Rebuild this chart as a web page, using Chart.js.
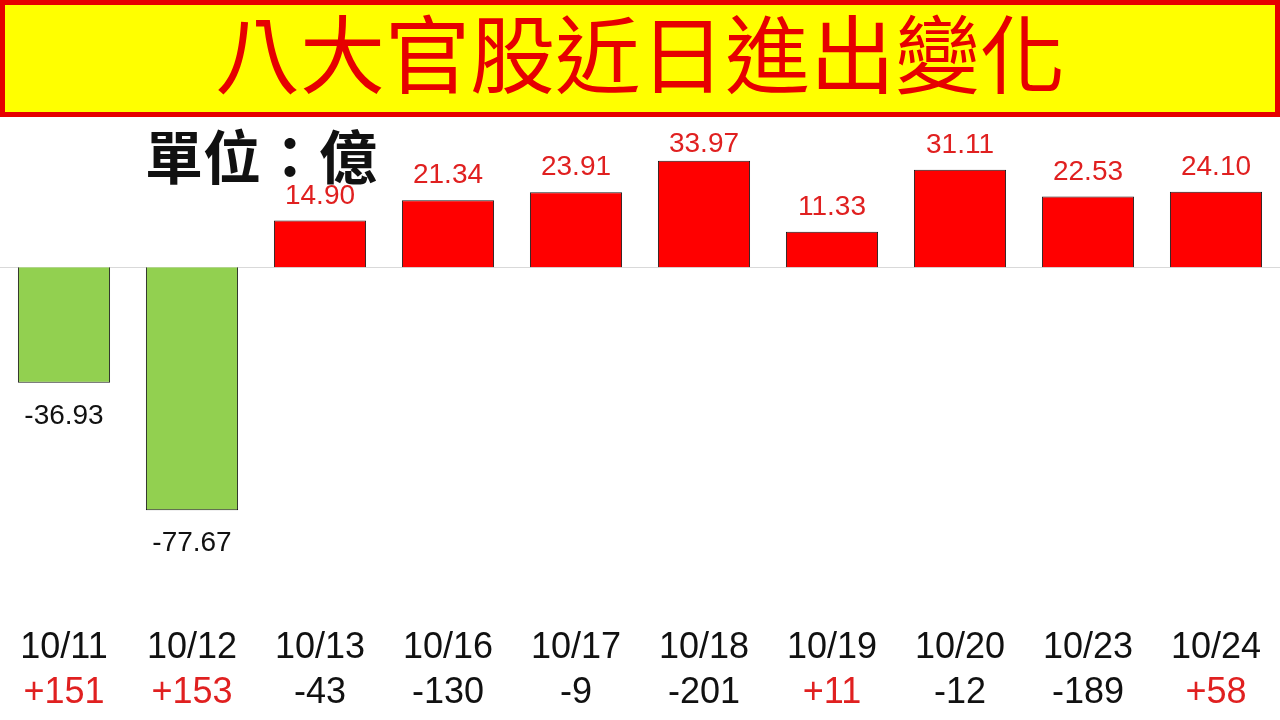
<!DOCTYPE html>
<html>
<head>
<meta charset="utf-8">
<script src="https://cdn.jsdelivr.net/npm/chart.js@4"></script>
<style>
  html, body { margin: 0; padding: 0; background: #fff; }
  #wrap { position: relative; width: 1280px; height: 720px; overflow: hidden; }
  #title {
    position: absolute; left: 0; top: 0; width: 1270px; height: 107px;
    background: #ffff00; border: 5px solid #e60000;
    color: #e60000; font: 400 85px/90px "Noto Sans CJK TC", sans-serif;
    text-align: center; z-index: 2;
  }
  #unit {
    position: absolute; left: 145px; top: 125px;
    font: bold 58px/1 "Noto Sans CJK TC", sans-serif; color: #111; z-index: 2;
  }
  #box { position: absolute; left: 0; top: 0; width: 1280px; height: 720px; }
</style>
</head>
<body>
<div id="wrap">
  <div id="title">八大官股近日進出變化</div>
  <div id="unit">單位：億</div>
  <div id="box"><canvas id="chart"></canvas></div>
</div>
<script>
// Data
const dates = ['10/11', '10/12', '10/13', '10/16', '10/17', '10/18', '10/19', '10/20', '10/23', '10/24'];
const netAmounts = [-36.93, -77.67, 14.90, 21.34, 23.91, 33.97, 11.33, 31.11, 22.53, 24.10];
const flows = [151, 153, -43, -130, -9, -201, 11, -12, -189, 58];

const RED = '#ff0000';
const GREEN = '#92d050';
const LABEL_RED = '#e02020';
const flowLabels = flows.map(v => (v > 0 ? '+' : '') + v);

// zero line + value labels
const valueLabels = {
    id: 'valueLabels',
    beforeDatasetsDraw(chart) {
        const { ctx, chartArea, scales } = chart;
        const y0 = Math.round(scales.y.getPixelForValue(0)) + 0.5;
        ctx.save();
        ctx.strokeStyle = '#d9d9d9';
        ctx.lineWidth = 1;
        ctx.beginPath();
        ctx.moveTo(chartArea.left, y0);
        ctx.lineTo(chartArea.right, y0);
        ctx.stroke();
        ctx.restore();
    },
    afterDatasetsDraw(chart) {
        const { ctx } = chart;
        const meta = chart.getDatasetMeta(0);
        ctx.save();
        ctx.font = '28px "Liberation Sans", Arial, sans-serif';
        ctx.textAlign = 'center';
        ctx.textBaseline = 'alphabetic';
        meta.data.forEach((bar, i) => {
            const v = netAmounts[i];
            const txt = v.toFixed(2);
            if (v >= 0) {
                ctx.fillStyle = LABEL_RED;
                // keep labels clear of the unit text
                const base = Math.max(bar.y - 17, 152);
                ctx.fillText(txt, bar.x, base);
            } else {
                ctx.fillStyle = '#111';
                ctx.fillText(txt, bar.x, bar.y + 41);
            }
        });
        ctx.restore();
    }
};

const ctx = document.getElementById('chart').getContext('2d');
const chart = new Chart(ctx, {
    type: 'bar',
    data: {
        labels: dates,
        datasets: [{
            data: netAmounts,
            backgroundColor: netAmounts.map(v => v >= 0 ? RED : GREEN),
            borderColor: '#1a1a1a',
            borderWidth: 1,
            categoryPercentage: 0.72,
            barPercentage: 1
        }]
    },
    options: {
        responsive: true,
        maintainAspectRatio: false,
        animation: false,
        layout: { padding: { top: 120, left: 0, right: 0, bottom: 0 } },
        plugins: {
            legend: { display: false },
            tooltip: { enabled: false }
        },
        scales: {
            x: {
                position: 'bottom',
                weight: 0,
                grid: { display: false, drawTicks: false },
                border: { display: false },
                ticks: {
                    color: '#111',
                    padding: 6,
                    maxRotation: 0,
                    autoSkip: false,
                    font: { family: '"Liberation Sans", Arial, sans-serif', size: 36 }
                },
                afterFit: s => { s.height = 44; }
            },
            x2: {
                type: 'category',
                labels: flowLabels,
                position: 'bottom',
                weight: 1,
                offset: true,
                grid: { display: false, drawTicks: false },
                border: { display: false },
                ticks: {
                    color: c => flows[c.index] > 0 ? LABEL_RED : '#111',
                    padding: 7,
                    maxRotation: 0,
                    autoSkip: false,
                    font: { family: '"Liberation Sans", Arial, sans-serif', size: 36 }
                },
                afterFit: s => { s.height = 56; }
            },
            y: {
                display: false,
                min: -112.7,
                max: 47
            }
        }
    },
    plugins: [valueLabels]
});
</script>
</body>
</html>
